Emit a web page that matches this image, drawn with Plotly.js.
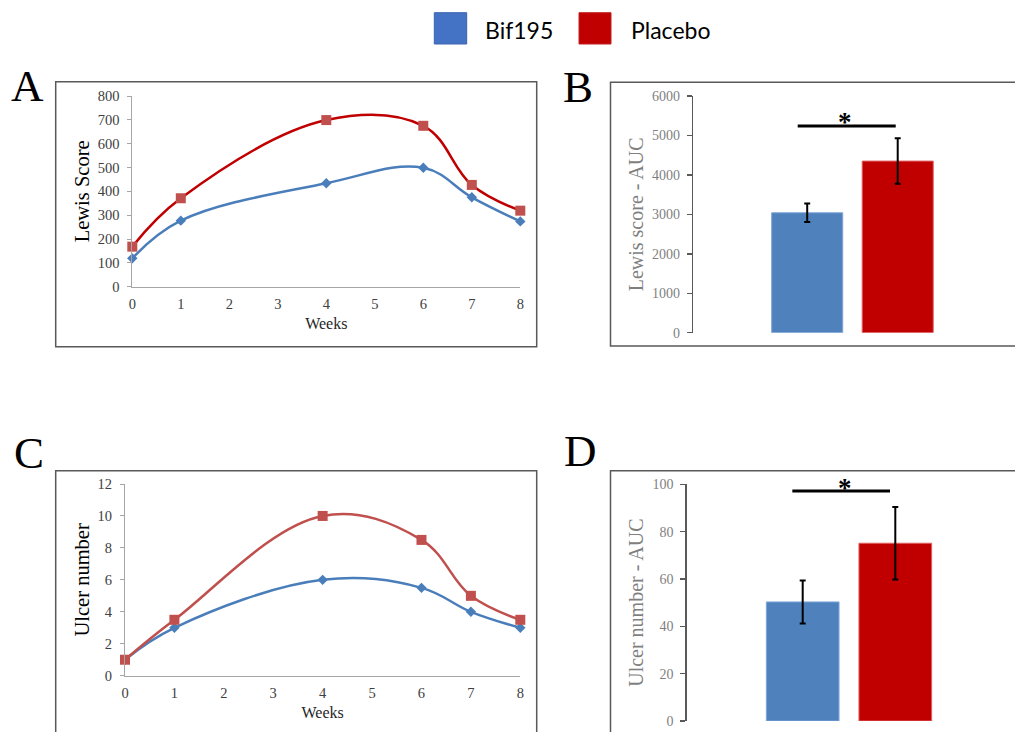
<!DOCTYPE html>
<html><head><meta charset="utf-8">
<script src="https://cdn.plot.ly/plotly-3.0.1.min.js"></script>
<style>html,body{margin:0;padding:0;background:#fff;} #chart{width:1015px;height:732px;}</style>
</head><body><div id="chart"></div>
<script>
// ---- data ----
const weeks = [0, 1, 4, 6, 7, 8];
const weekTicks = [0, 1, 2, 3, 4, 5, 6, 7, 8];
const lewisBif = [119, 277, 434, 499, 375, 274];
const lewisPlacebo = [168, 371, 699, 675, 427, 319];
const ulcerBif = [1, 3, 6, 5.5, 4, 3];
const ulcerPlacebo = [1, 3.5, 10, 8.5, 5, 3.5];
const groups = ['Bif195', 'Placebo'];
const lewisAUC = [3040, 4350];
const lewisAUCErr = [236, 576];
const ulcerAUC = [50.3, 75.1];
const ulcerAUCErr = [9.1, 15.3];
const lewisSigY = 5240;
const ulcerSigY = 97.2;

// ---- style ----
const W = 1015, H = 732;
const px = v => v / W;
const py = v => 1 - v / H;
const SERIF = 'Liberation Serif';
const BLUE = '#4a7ebb', RED_DARK = '#c00000', RED = '#c0504d';
const BAR_BLUE = '#4f81bd', BAR_RED = '#c00000';

function lineTrace(x, y, xa, ya, color, mColor, symbol, size) {
  return {x: x, y: y, xaxis: xa, yaxis: ya, type: 'scatter', mode: 'lines+markers',
    line: {shape: 'spline', smoothing: 1.1, color: color, width: 2.5},
    marker: {symbol: symbol, size: size, color: mColor},
    showlegend: false, cliponaxis: false, hoverinfo: 'x+y'};
}
function barTrace(y, err, xa, ya) {
  return {x: groups, y: y, xaxis: xa, yaxis: ya, type: 'bar', width: 0.785,
    marker: {color: [BAR_BLUE, BAR_RED], line: {color: ['#7ea6d8', '#e06060'], width: 1}},
    error_y: {type: 'data', array: err, visible: true, color: '#000', thickness: 2, width: 3},
    showlegend: false};
}

const data = [
  lineTrace(weeks, lewisBif, 'x', 'y', BLUE, BLUE, 'diamond', 8),
  lineTrace(weeks, lewisPlacebo, 'x', 'y', RED_DARK, RED, 'square', 10),
  barTrace(lewisAUC, lewisAUCErr, 'x2', 'y2'),
  lineTrace(weeks, ulcerBif, 'x3', 'y3', BLUE, BLUE, 'diamond', 8),
  lineTrace(weeks, ulcerPlacebo, 'x3', 'y3', RED, RED, 'square', 10),
  barTrace(ulcerAUC, ulcerAUCErr, 'x4', 'y4')
];

function lineXAxis(d, anchor) {
  return {domain: d, anchor: anchor, range: [0, 8], tickvals: weekTicks, showgrid: false, zeroline: false,
    showline: true, linecolor: '#a6a6a6', linewidth: 1, ticks: '',
    tickfont: {family: SERIF, size: 14.5, color: '#404040'},
    ticklabelstandoff: 4,
    title: {text: 'Weeks', font: {family: SERIF, size: 16, color: '#262626'}, standoff: 6}};
}
function lineYAxis(d, anchor, range, dtick, title) {
  return {domain: d, anchor: anchor, range: range, dtick: dtick, showgrid: false, zeroline: false,
    showline: true, linecolor: '#a6a6a6', linewidth: 1, ticks: 'outside', ticklen: 4, tickcolor: '#a6a6a6',
    tickfont: {family: SERIF, size: 14.5, color: '#404040'}, ticklabelstandoff: 5,
    title: {text: title, font: {family: SERIF, size: 20.5, color: '#000'}, standoff: 2}};
}
function barXAxis(d, anchor, range) {
  return {domain: d, anchor: anchor, range: range, type: 'category', showgrid: false, zeroline: false,
    showline: false, showticklabels: false, ticks: ''};
}
function barYAxis(d, anchor, range, dtick, title) {
  return {domain: d, anchor: anchor, range: range, dtick: dtick, showgrid: false, zeroline: false,
    showline: true, linecolor: '#595959', linewidth: 1.5, ticks: 'outside', ticklen: 5, tickcolor: '#595959',
    tickwidth: 1.5, tickfont: {family: SERIF, size: 14, color: '#7f7f7f'}, ticklabelstandoff: 4,
    title: {text: title, font: {family: SERIF, size: 20, color: '#7f7f7f'}, standoff: 3}};
}

const layout = {
  width: W, height: H, margin: {l: 0, r: 0, t: 0, b: 0}, paper_bgcolor: '#fff', plot_bgcolor: 'rgba(0,0,0,0)',
  showlegend: false, bargap: 0,
  xaxis: lineXAxis([px(132.3), px(520.3)], 'y'),
  yaxis: lineYAxis([py(286.7), py(96)], 'x', [0, 800], 100, 'Lewis Score'),
  xaxis2: barXAxis([px(693.3), 1], 'y2', [-1.2586, 2.296]),
  yaxis2: barYAxis([py(332.7), py(96)], 'x2', [0, 6000], 1000, 'Lewis score - AUC'),
  xaxis3: lineXAxis([px(125), px(520.3)], 'y3'),
  yaxis3: lineYAxis([py(675.7), py(484)], 'x3', [0, 12], 2, 'Ulcer number'),
  xaxis4: barXAxis([px(686.7), 1], 'y4', [-1.2527, 2.2927]),
  yaxis4: barYAxis([py(721), py(484.3)], 'x4', [0, 100], 20, 'Ulcer number - AUC'),
  shapes: [
    // panel frames
    {type: 'rect', xref: 'paper', yref: 'paper', x0: px(55.7), x1: px(536.7), y0: py(346.7), y1: py(81.7), line: {color: '#595959', width: 1.5}},
    {type: 'rect', xref: 'paper', yref: 'paper', x0: px(610.5), x1: px(1030), y0: py(346), y1: py(82.3), line: {color: '#595959', width: 1.5}},
    {type: 'rect', xref: 'paper', yref: 'paper', x0: px(55.7), x1: px(536.7), y0: py(745), y1: py(470.7), line: {color: '#595959', width: 1.5}},
    {type: 'rect', xref: 'paper', yref: 'paper', x0: px(610.5), x1: px(1030), y0: py(745), y1: py(470.7), line: {color: '#595959', width: 1.5}},
    // legend swatches
    {type: 'rect', xref: 'paper', yref: 'paper', x0: px(434.3), x1: px(466.7), y0: py(44), y1: py(12.7), fillcolor: '#4472c4', line: {color: '#3a64ad', width: 1}},
    {type: 'rect', xref: 'paper', yref: 'paper', x0: px(579), x1: px(611), y0: py(44), y1: py(12.7), fillcolor: '#c00000', line: {color: '#c42020', width: 1}},
    // significance bars
    {type: 'line', xref: 'x2', yref: 'y2', x0: -0.105, x1: 0.978, y0: lewisSigY, y1: lewisSigY, line: {color: '#000', width: 3}},
    {type: 'line', xref: 'x4', yref: 'y4', x0: -0.112, x1: 0.943, y0: ulcerSigY, y1: ulcerSigY, line: {color: '#000', width: 3}}
  ],
  annotations: [
    {text: 'A', xref: 'paper', yref: 'paper', x: px(27.5), y: py(86), xanchor: 'center', yanchor: 'middle', showarrow: false, font: {family: SERIF, size: 45, color: '#000'}},
    {text: 'B', xref: 'paper', yref: 'paper', x: px(578), y: py(87), xanchor: 'center', yanchor: 'middle', showarrow: false, font: {family: SERIF, size: 45, color: '#000'}},
    {text: 'C', xref: 'paper', yref: 'paper', x: px(29), y: py(453), xanchor: 'center', yanchor: 'middle', showarrow: false, font: {family: SERIF, size: 45, color: '#000'}},
    {text: 'D', xref: 'paper', yref: 'paper', x: px(580), y: py(451), xanchor: 'center', yanchor: 'middle', showarrow: false, font: {family: SERIF, size: 45, color: '#000'}},
    {text: 'Bif195', xref: 'paper', yref: 'paper', x: px(483), y: py(29.5), xanchor: 'left', yanchor: 'middle', showarrow: false, font: {family: 'Lato', size: 23, color: '#000'}},
    {text: 'Placebo', xref: 'paper', yref: 'paper', x: px(629), y: py(29.5), xanchor: 'left', yanchor: 'middle', showarrow: false, font: {family: 'Lato', size: 23, color: '#000'}},
    {text: '<b>*</b>', xref: 'x2', yref: 'paper', x: 0.418, y: py(122), xanchor: 'center', yanchor: 'middle', showarrow: false, font: {family: SERIF, size: 27, color: '#000'}},
    {text: '<b>*</b>', xref: 'x4', yref: 'paper', x: 0.457, y: py(488), xanchor: 'center', yanchor: 'middle', showarrow: false, font: {family: SERIF, size: 27, color: '#000'}}
  ]
};

Plotly.newPlot('chart', data, layout, {displayModeBar: false, staticPlot: true});
</script>
</body></html>
